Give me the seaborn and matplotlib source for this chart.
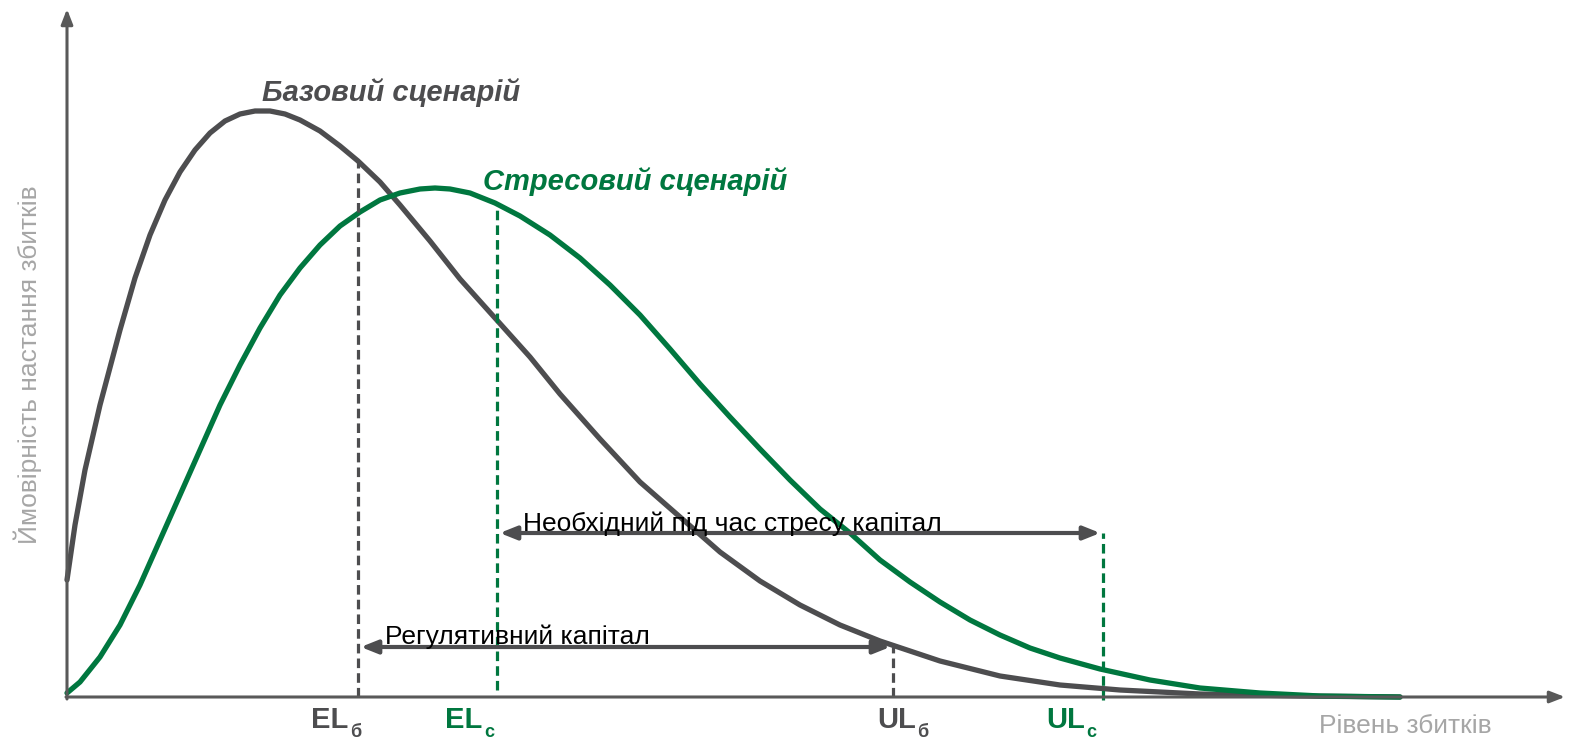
import numpy as np
import pandas as pd
import matplotlib
matplotlib.use("Agg")
import matplotlib.pyplot as plt
import seaborn as sns

# loss level (x) and density (y), arbitrary units
base_x = [0, 0.08, 0.18, 0.33, 0.53, 0.68, 0.83, 0.98, 1.13, 1.28, 1.43, 1.58, 1.73,
          1.88, 2.03, 2.18, 2.33, 2.53, 2.73, 2.91, 3.13, 3.33, 3.63, 3.93, 4.28,
          4.63, 4.93, 5.33, 5.73, 6.13, 6.53, 6.93, 7.33, 7.73, 8.13, 8.73, 9.33,
          9.93, 10.53, 11.33, 12.33, 13.33]
base_y = [1.17, 1.72, 2.27, 2.92, 3.67, 4.19, 4.62, 4.97, 5.25, 5.47, 5.64, 5.76, 5.83,
          5.86, 5.86, 5.83, 5.77, 5.66, 5.51, 5.36, 5.15, 4.92, 4.56, 4.18, 3.79,
          3.40, 3.03, 2.58, 2.15, 1.80, 1.45, 1.16, 0.92, 0.72, 0.56, 0.36, 0.21,
          0.12, 0.07, 0.03, 0.01, 0.0]

stress_x = [0, 0.13, 0.33, 0.53, 0.73, 0.93, 1.13, 1.33, 1.53, 1.73, 1.93, 2.13, 2.33,
            2.53, 2.73, 2.93, 3.13, 3.33, 3.53, 3.68, 3.83, 4.03, 4.28, 4.53, 4.83,
            5.13, 5.43, 5.73, 6.03, 6.33, 6.63, 6.93, 7.23, 7.53, 7.83, 8.13, 8.43,
            8.73, 9.03, 9.33, 9.63, 9.93, 10.33, 10.83, 11.33, 11.93, 12.53, 13.33]
stress_y = [0.04, 0.15, 0.40, 0.72, 1.12, 1.57, 2.02, 2.47, 2.92, 3.32, 3.69, 4.02, 4.29,
            4.52, 4.71, 4.85, 4.97, 5.04, 5.08, 5.09, 5.08, 5.04, 4.94, 4.81, 4.62,
            4.39, 4.12, 3.82, 3.48, 3.13, 2.80, 2.48, 2.17, 1.88, 1.64, 1.37, 1.15,
            0.95, 0.77, 0.62, 0.49, 0.39, 0.28, 0.17, 0.09, 0.04, 0.01, 0.0]

# expected / unexpected loss levels
el_base, ul_base = 2.91, 8.26
el_stress, ul_stress = 4.30, 10.36
# heights of the capital arrows
cap_base_y, cap_stress_y = 0.50, 1.64

GRAY = "#4d4d4f"
GREEN = "#00773f"
LABEL_GRAY = "#a6a6a6"

sns.set_style("white")
plt.rcParams["font.family"] = ["Liberation Sans", "DejaVu Sans"]

df = pd.concat([
    pd.DataFrame({"loss": base_x, "dens": base_y, "scen": "base"}),
    pd.DataFrame({"loss": stress_x, "dens": stress_y, "scen": "stress"}),
])

fig = plt.figure(figsize=(15.69, 7.38), dpi=100)
ax = fig.add_axes([0, 0, 1, 1])
sns.lineplot(data=df, x="loss", y="dens", hue="scen", palette=[GRAY, GREEN],
             linewidth=3.8, legend=False, sort=False, ax=ax)
ax.set_xlim(-0.67, 15.02)
ax.set_ylim(-0.41, 6.97)
ax.set_axis_off()

# axes with arrow heads
ax.annotate("", xy=(0, 6.88), xytext=(0, -0.02),
            arrowprops=dict(arrowstyle="-|>,head_length=0.9,head_width=0.35",
                            color="#595959", lw=2.2, shrinkA=0, shrinkB=0))
ax.annotate("", xy=(14.98, 0), xytext=(-0.01, 0),
            arrowprops=dict(arrowstyle="-|>,head_length=0.9,head_width=0.35",
                            color="#595959", lw=2.2, shrinkA=0, shrinkB=0))

# dashed markers
bx, by = np.array(base_x), np.array(base_y)
sx, sy = np.array(stress_x), np.array(stress_y)
dash = (0, (3, 1.6))
ax.plot([el_base] * 2, [0, np.interp(el_base, bx, by)], ls=dash, color=GRAY, lw=2.3)
ax.plot([ul_base] * 2, [0, cap_base_y], ls=dash, color=GRAY, lw=2.3)
ax.plot([el_stress] * 2, [0.07, np.interp(el_stress, sx, sy)], ls=dash, color=GREEN, lw=2.3)
ax.plot([ul_stress] * 2, [-0.03, cap_stress_y], ls=dash, color=GREEN, lw=2.3)

# capital arrows
arr = dict(arrowstyle="<|-|>,head_length=1.0,head_width=0.4", color=GRAY, lw=3,
           shrinkA=2, shrinkB=2)
ax.annotate("", xy=(el_stress, cap_stress_y), xytext=(ul_stress, cap_stress_y), arrowprops=arr)
ax.annotate("", xy=(el_base, cap_base_y), xytext=(ul_base, cap_base_y), arrowprops=arr)
ax.text(4.56, cap_stress_y + 0.02, "Необхідний під час стресу капітал", fontsize=19,
        color="black", va="baseline")
ax.text(3.18, cap_base_y + 0.03, "Регулятивний капітал", fontsize=19,
        color="black", va="baseline")

# scenario titles
ax.text(1.95, 5.96, "Базовий сценарій", fontsize=21, fontweight="bold",
        fontstyle="italic", color=GRAY, va="baseline")
ax.text(4.16, 5.07, "Стресовий сценарій", fontsize=21, fontweight="bold",
        fontstyle="italic", color=GREEN, va="baseline")

# tick-like labels under the x axis
labels = [("EL", "б", 2.44, GRAY), ("EL", "с", 3.78, GREEN),
          ("UL", "б", 8.10, GRAY), ("UL", "с", 9.79, GREEN)]
for main, sub, xpos, col in labels:
    t = ax.text(xpos, -0.31, main, fontsize=21, fontweight="bold", color=col, va="baseline")
    ax.annotate(sub, xy=(1.0, 0.0), xycoords=t, xytext=(1, -2), textcoords="offset points",
                fontsize=13, fontweight="bold", color=col, va="baseline")

ax.text(13.38, -0.29, "Рівень збитків", fontsize=19, color=LABEL_GRAY, ha="center", va="center")
ax.text(-0.39, 3.32, "Ймовірність настання збитків", fontsize=19, color=LABEL_GRAY,
        rotation=90, ha="center", va="center")

fig.savefig("out.png", dpi=100)
